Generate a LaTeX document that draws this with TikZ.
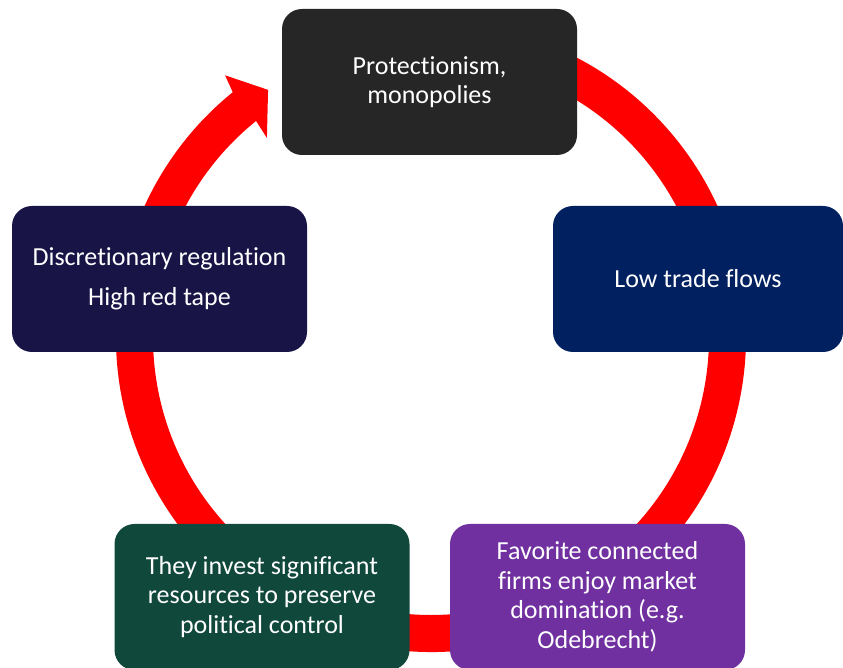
\documentclass[tikz,border=0pt]{standalone}
\usepackage{fontspec}
\setmainfont{Carlito}[Ligatures=NoCommon]
\definecolor{ringred}{HTML}{FF0000}
\definecolor{topgray}{HTML}{262626}
\definecolor{tradeblue}{HTML}{002060}
\definecolor{regulblue}{HTML}{191446}
\definecolor{investgreen}{HTML}{10483C}
\definecolor{firmspurple}{HTML}{7030A0}
\tikzset{
	box/.style={rounded corners=20pt,text=white,align=center,inner sep=0pt,
		minimum width=295pt,minimum height=146pt,
		font=\fontsize{26}{29.5}\selectfont}
}
\begin{document}
\begin{tikzpicture}[x=1pt,y=1pt]
		\useasboundingbox (0,0) rectangle (843,668);
		\coordinate (c) at (431,331);
		
		% draw red ring with arrow head
		\fill[ringred,shift={(c)}] (80:315) arc[start angle=80,end angle=-231,radius=315]
			-- (-231.8:333) -- (-236.6:296) -- (-230.5:258) -- (-231:278)
			arc[start angle=-231,end angle=80,radius=278] -- cycle;
		
		% draw boxes
		\node[box,fill=topgray] (protect) at (429.5,586) {Protectionism,\\monopolies};
		\node[box,fill=tradeblue,minimum width=290pt] (trade) at (698,389) {Low trade flows};
		\node[box,fill=firmspurple] (firms) at (597.5,71) {Favorite connected\\firms enjoy market\\domination (e.g.\\Odebrecht)};
		\node[box,fill=investgreen] (invest) at (262,71) {They invest significant\\resources to preserve\\political control};
		\node[box,fill=regulblue] (regul) at (159.5,389) {Discretionary regulation\\[10.5pt]High red tape};
	\end{tikzpicture}
\end{document}
